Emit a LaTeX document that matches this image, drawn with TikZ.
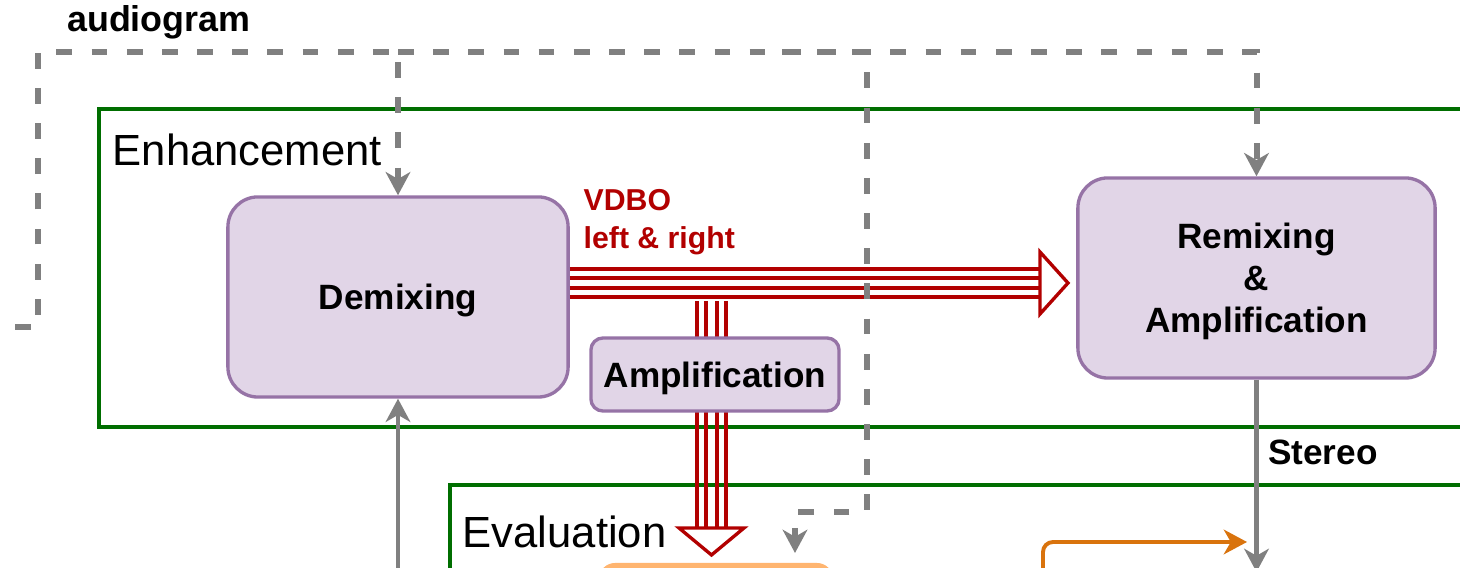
\documentclass[tikz,border=0pt]{standalone}
\usepackage{fontspec}
\setmainfont{Liberation Sans}
\usetikzlibrary{arrows.meta,calc}
\definecolor{stagegreen}{RGB}{0,110,0}
\definecolor{boxfill}{RGB}{225,213,231}
\definecolor{boxline}{RGB}{150,115,166}
\definecolor{sigred}{RGB}{178,0,0}
\definecolor{wire}{RGB}{128,128,128}
\definecolor{orangeline}{RGB}{217,115,13}
\definecolor{orangefill}{RGB}{255,181,112}

\begin{document}
\begin{tikzpicture}[x=0.01cm,y=-0.01cm,
  stage/.style={draw=stagegreen,line width=1pt,inner sep=0pt,anchor=north west},
  stagelabel/.style={anchor=west,inner sep=0pt,font=\fontsize{12.4}{14}\selectfont},
  block/.style={draw=boxline,fill=boxfill,line width=0.95pt,inner sep=0pt,align=center,
                text depth=0pt,font=\fontsize{10}{12}\selectfont\bfseries},
  tag/.style={inner sep=1pt,font=\fontsize{10}{12}\selectfont\bfseries},
  redline/.style={draw=sigred,line width=0.95pt},
  redhead/.style={draw=sigred,fill=white,line width=0.95pt,line join=miter},
  tipshape/.style={-{Stealth[length=6.6pt,width=7pt,inset=2pt]}},
  audio/.style={draw=wire,line width=1.7pt,dash pattern=on 4.5pt off 5.5pt,tipshape},
  feed/.style={draw=wire,line width=1.3pt,tipshape},
  orangewire/.style={draw=orangeline,line width=1.1pt,rounded corners=0.1cm,tipshape},
]

\clip (0,0) rectangle (1460,568);
\fill[white] (0,0) rectangle (1460,568);

% processing stages
\node[stage,minimum width=14cm,minimum height=3.18cm] (enh) at (97,107) {};
\node[stagelabel] (enhlbl) at (112,150) {Enhancement};
\node[stage,minimum width=11cm,minimum height=2cm] (eval) at (448,483) {};
\node[stagelabel] (evallbl) at (462,532) {Evaluation};

% blocks
\node[block,minimum width=3.4cm,minimum height=2cm,rounded corners=0.3cm] (demix) at (398,297) {Demixing};
\node[block,minimum width=3.57cm,minimum height=2cm,rounded corners=0.3cm,
      font=\fontsize{10}{11.95}\selectfont\bfseries] (remix) at (1256.5,278) {Remixing\\\&\\Amplification};
\node[draw=orangefill,fill=orangefill,rounded corners=0.15cm,minimum width=2.32cm,
      minimum height=1cm,anchor=north] (score) at (716,563) {};

% VDBO left & right: four-line bus to remixing
\coordinate (hbase) at (1040,283);
\coordinate (htip) at (1068,283);
\foreach \y in {269,278,288,297}{
  \coordinate (ly) at (0,\y);
  \draw[redline] (demix.east |- ly) -- (hbase |- ly);
}
\draw[redhead] ($(hbase)+(0,-31)$) -- (htip) -- ($(hbase)+(0,31)$) -- cycle;

% branch down through amplification to evaluation
\coordinate (vtop) at (711.5,301);
\coordinate (vbase) at (711.5,528);
\coordinate (vtip) at (711.5,555);
\foreach \x in {697,706,717,726}{
  \coordinate (lx) at (\x,0);
  \draw[redline] (lx |- vtop) -- (lx |- vbase);
}
\draw[redhead] ($(vbase)+(-32.5,0)$) -- (vtip) -- ($(vbase)+(32.5,0)$) -- cycle;

\node[block,minimum width=2.48cm,minimum height=0.73cm,rounded corners=0.12cm] (amp) at (715,374.5) {Amplification};

\node[anchor=north west,inner sep=0pt,align=left,text=sigred,
      font=\fontsize{8.6}{10.8}\selectfont\bfseries] (vdbo) at (583,189) {VDBO\\left \& right};

% audiogram distribution
\coordinate (aud) at (15,327);
\coordinate (split) at (398,52);
\coordinate (tap) at (782,52);
\coordinate (evalin) at (795,553);
\draw[audio] (aud) -- (38,327) -- (38,52) -- (split) -- (demix.north);
\draw[audio] (split) -| (remix.north);
\draw[audio] (tap) -- (867,52) -- (867,512) -| (evalin);
\node[tag,anchor=west,fill=white,font=\fontsize{10.2}{12}\selectfont\bfseries] (audlbl) at (63,22) {audiogram};

% signal feeds
\coordinate (below) at (398,600);
\draw[feed] (below) -- (demix.south);
\coordinate (stereoend) at (1256.5,572);
\draw[feed] (remix.south) -- (stereoend);
\node[tag,anchor=west] (stereo) at (1264,452) {Stereo};

\coordinate (orgsrc) at (1043,600);
\coordinate (orgend) at (1247,542);
\draw[orangewire] (orgsrc) |- (orgend);

\end{tikzpicture}
\end{document}
